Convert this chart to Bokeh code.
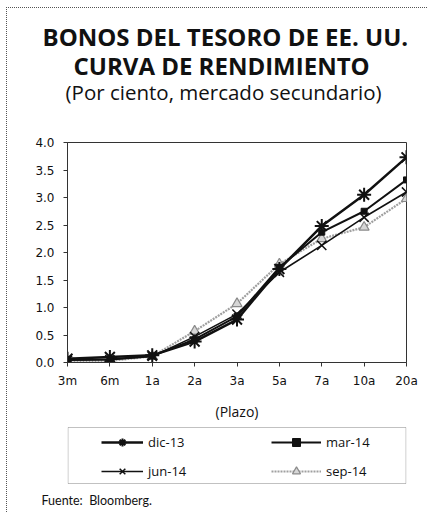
from bokeh.plotting import figure
from bokeh.layouts import column
from bokeh.models import (Range1d, FixedTicker, Legend, LegendItem,
                          BoxAnnotation, Title)
from bokeh.embed import file_html
from bokeh.resources import INLINE

# Tenors of the US Treasury yield curve
plazos = ["3m", "6m", "1a", "2a", "3a", "5a", "7a", "10a", "20a"]

# Yields (%) on the secondary market, by date
dic_13 = [0.07, 0.10, 0.13, 0.38, 0.78, 1.70, 2.48, 3.05, 3.73]
mar_14 = [0.05, 0.06, 0.12, 0.42, 0.84, 1.73, 2.37, 2.75, 3.32]
jun_14 = [0.04, 0.05, 0.11, 0.47, 0.88, 1.64, 2.13, 2.64, 3.10]
sep_14 = [0.02, 0.03, 0.11, 0.57, 1.07, 1.79, 2.25, 2.46, 2.98]

y_ticks = [0.0, 0.5, 1.0, 1.5, 2.0, 2.5, 3.0, 3.5, 4.0]

values = {"dic-13": dic_13, "mar-14": mar_14, "jun-14": jun_14, "sep-14": sep_14}

TICK_FONT = "DejaVu Sans"
TEXT_FONT = "Open Sans"
INK = "#111111"
W = 420

# line / marker style of each series
styles = {
    "dic-13": dict(line=dict(line_color=INK, line_width=2.5),
                   mark=dict(marker="asterisk", size=14, line_color=INK, line_width=2)),
    "mar-14": dict(line=dict(line_color=INK, line_width=2),
                   mark=dict(marker="square", size=6, fill_color=INK, line_color=INK)),
    "jun-14": dict(line=dict(line_color=INK, line_width=1.6),
                   mark=dict(marker="x", size=13, line_color=INK, line_width=1.5)),
    "sep-14": dict(line=dict(line_color="#a0a0a0", line_width=2.2, line_dash="2 1"),
                   mark=dict(marker="triangle", size=10, fill_color="#d6d6d6",
                             line_color="#8a8a8a", line_width=1.2)),
}
# smaller markers for the legend samples
legend_sizes = {"dic-13": 9, "mar-14": 5, "jun-14": 8, "sep-14": 7}

xs = list(range(len(plazos)))

# ---- yield curve chart with its heading ----------------------------------
p = figure(width=W, height=416, output_backend="svg", toolbar_location=None,
           x_range=Range1d(0, len(plazos) - 1), y_range=Range1d(0, 4),
           min_border_left=60, min_border_right=21,
           min_border_top=134, min_border_bottom=62)
p.background_fill_color = "white"
p.border_fill_color = "white"
p.outline_line_color = "#333333"
p.outline_line_width = 1
p.xgrid.visible = False
p.ygrid.visible = False

# heading, stacked upwards from the plot: a blank gap, then the three lines
p.add_layout(Title(text=" ", text_font=TEXT_FONT, text_font_size="10px",
                   standoff=24), "above")
p.add_layout(Title(text="(Por ciento, mercado secundario)", align="left", offset=-2,
                   text_font=TEXT_FONT, text_font_style="normal",
                   text_font_size="20.5px", text_color=INK, standoff=-6), "above")
p.add_layout(Title(text="CURVA DE RENDIMIENTO", align="left", offset=6,
                   text_font=TEXT_FONT, text_font_style="bold",
                   text_font_size="24px", text_color=INK, standoff=-6), "above")
p.add_layout(Title(text="BONOS DEL TESORO DE EE. UU.", align="left", offset=-25,
                   text_font=TEXT_FONT, text_font_style="bold",
                   text_font_size="24px", text_color=INK, standoff=-6), "above")

p.yaxis.ticker = FixedTicker(ticks=y_ticks)
p.yaxis.major_label_overrides = {t: f"{t:.1f}" for t in y_ticks}
p.xaxis.ticker = FixedTicker(ticks=xs)
p.xaxis.major_label_overrides = {i: s for i, s in enumerate(plazos)}
for ax in (p.xaxis[0], p.yaxis[0]):
    ax.axis_line_color = "#333333"
    ax.major_tick_line_color = "#333333"
    ax.major_tick_out = 4
    ax.major_tick_in = 0
    ax.minor_tick_line_color = None
    ax.major_label_text_font = TICK_FONT
    ax.major_label_text_font_size = "12px"
    ax.major_label_text_color = INK
p.yaxis.major_label_standoff = 9
p.xaxis.major_label_standoff = 7
p.xaxis.axis_label = "(Plazo)"
p.xaxis.axis_label_text_font = TEXT_FONT
p.xaxis.axis_label_text_font_style = "normal"
p.xaxis.axis_label_text_font_size = "14px"
p.xaxis.axis_label_text_color = INK
p.xaxis.axis_label_standoff = 11

for name in ["sep-14", "jun-14", "mar-14", "dic-13"]:
    p.line(xs, values[name], **styles[name]["line"])
    p.scatter(xs, values[name], **styles[name]["mark"])

# ---- legend panel and source --------------------------------------------
# Same series drawn in a strip whose y range lies far above the data, so only
# their legend samples show.
foot = figure(width=W, height=88, output_backend="svg", toolbar_location=None,
              x_range=Range1d(0, len(plazos) - 1), y_range=Range1d(100, 101),
              x_axis_type=None, y_axis_type=None,
              min_border_left=60, min_border_right=21,
              min_border_top=0, min_border_bottom=22)
foot.outline_line_color = None
foot.xgrid.visible = False
foot.ygrid.visible = False
foot.background_fill_color = "white"
foot.border_fill_color = "white"

samples = {}
for name in values:
    ln = foot.line(xs, values[name], **styles[name]["line"])
    mk = dict(styles[name]["mark"], size=legend_sizes[name])
    sc = foot.scatter(xs, values[name], **mk)
    samples[name] = [ln, sc]

foot.add_layout(BoxAnnotation(left=0.5, right=338.5, top=63, bottom=7,
                              left_units="screen", right_units="screen",
                              top_units="screen", bottom_units="screen",
                              fill_alpha=0, line_color="#333333", line_width=1))


def legend_column(names, x, glyph_w):
    lg = Legend(items=[LegendItem(label=n, renderers=samples[n]) for n in names],
                location=(x, 9), orientation="vertical",
                glyph_width=glyph_w, glyph_height=20, label_height=20, spacing=9,
                label_standoff=5, padding=0, margin=0,
                border_line_alpha=0, background_fill_alpha=0,
                label_text_font=TEXT_FONT, label_text_font_size="13px",
                label_text_color=INK)
    foot.add_layout(lg, "center")


legend_column(["dic-13", "jun-14"], 34, 42)
legend_column(["mar-14", "sep-14"], 204, 50)

foot.add_layout(Title(text="Fuente:\u00a0 Bloomberg.", align="left", offset=-26,
                      text_font="Lato", text_font_style="normal",
                      text_font_size="12.5px", text_color=INK, standoff=0), "below")

layout = column(p, foot, spacing=0, margin=(7, 0, 0, 6),
                styles={"border-left": "1px dotted #555555",
                        "border-top": "1px dotted #555555"})

open("out.html", "w").write(file_html(layout, INLINE))
